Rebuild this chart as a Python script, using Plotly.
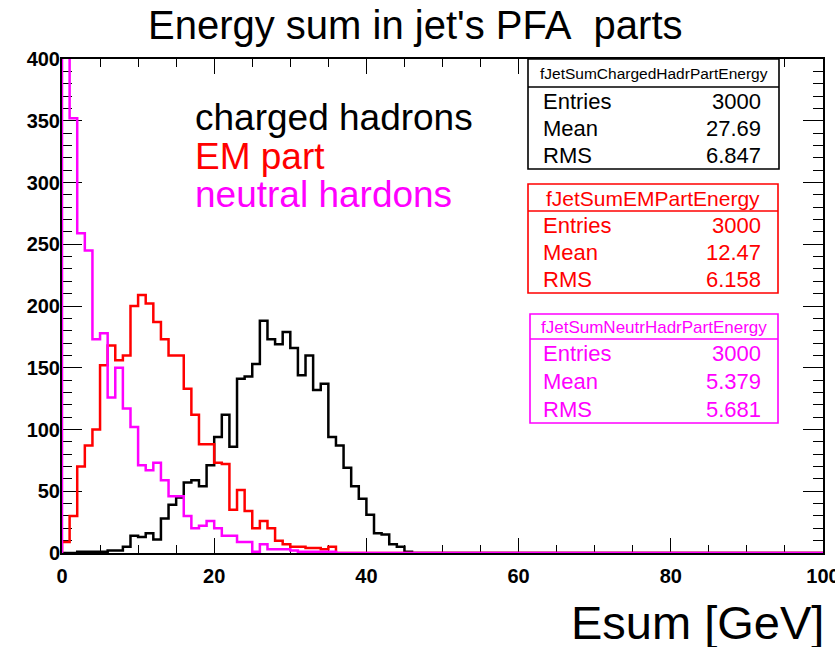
import numpy as np
import plotly.graph_objects as go

# Histogram contents, 1 GeV bins starting at 0 GeV (bins past the lists are empty)
N_BINS = 100
X_MIN, X_MAX = 0.0, 100.0

charged_hadrons = [0, 0, 1, 1, 1, 1, 2, 2, 5, 14, 13, 16, 11, 28, 39, 45, 57, 59, 54, 71,
                   94, 112, 86, 141, 143, 153, 188, 173, 169, 179, 166, 144, 160, 132, 137,
                   94, 87, 69, 54, 44, 31, 16, 15, 7, 5, 1]
em_part = [9, 30, 70, 87, 100, 152, 168, 156, 160, 200, 209, 202, 187, 173, 160, 160, 133,
           112, 88, 88, 73, 72, 35, 51, 34, 20, 26, 20, 10, 7, 5, 5, 4, 4, 3, 5]
neutral_hadrons = [748, 352, 259, 245, 173, 178, 126, 150, 117, 102, 71, 67, 73, 59, 46, 46,
                   30, 20, 22, 26, 20, 14, 14, 9, 9, 1, 7, 3, 3, 3, 2, 1, 1, 1, 1, 1]

series_labels = ["charged hadrons", "EM part", "neutral hardons"]
series_colors = ["#000000", "#ff0000", "#ff00ff"]

# Statistics box contents
hist_names = ["fJetSumChargedHadrPartEnergy", "fJetSumEMPartEnergy", "fJetSumNeutrHadrPartEnergy"]
stat_entries = ["3000", "3000", "3000"]
stat_means = ["27.69", "12.47", "5.379"]
stat_rms = ["6.847", "6.158", "5.681"]

title_text = "Energy sum in jet's PFA\u00a0 parts"
x_title = "Esum [GeV]"

# Frame geometry in pixels (used to place boxes and labels)
W, H = 835, 647
FL, FR, FT, FB = 62, 823, 59, 553


def fx(px):
    return (px - FL) / (FR - FL)


def fy(py):
    return (FB - py) / (FB - FT)


def step_outline(counts):
    full = np.zeros(N_BINS)
    full[:len(counts)] = counts
    edges = np.linspace(X_MIN, X_MAX, N_BINS + 1)
    xs = np.concatenate([[edges[0]], edges, [edges[-1]]])
    ys = np.concatenate([[0.0], full, [full[-1]], [0.0]])
    return xs, ys


fig = go.Figure()
for counts, color in zip([charged_hadrons, em_part, neutral_hadrons], series_colors):
    xs, ys = step_outline(counts)
    fig.add_trace(go.Scatter(x=xs, y=ys, mode="lines", line=dict(color=color, width=2.5, shape="hv"),
                             showlegend=False, hoverinfo="skip"))

FONT = "Liberation Sans, Arial, Helvetica, sans-serif"
annotations = []

# Title
annotations.append(dict(text=title_text, x=fx(415), y=fy(25), xref="paper", yref="paper",
                        xanchor="center", yanchor="middle", showarrow=False,
                        font=dict(family=FONT, size=40, color="black")))
# Axis title
annotations.append(dict(text=x_title, x=fx(826), y=fy(622), xref="paper", yref="paper",
                        xanchor="right", yanchor="middle", showarrow=False,
                        font=dict(family=FONT, size=47, color="black")))
# Series labels
for i, (lab, col) in enumerate(zip(series_labels, series_colors)):
    annotations.append(dict(text=lab, x=fx(193), y=fy(117.5 + 38.5 * i), xref="paper", yref="paper",
                            xanchor="left", yanchor="middle", showarrow=False,
                            font=dict(family=FONT, size=37, color=col)))

shapes = []
boxes = [  # left, right, top, separator, bottom, title font size
    (528, 779, 59, 87, 169, 15.5),
    (528, 778, 184, 211, 293, 21),
    (530, 778, 314, 339, 423, 17),
]
for (l, r, t, s, b, tsize), name, col, ent, mean, rms in zip(boxes, hist_names, series_colors,
                                                           stat_entries, stat_means, stat_rms):
    shapes.append(dict(type="rect", xref="paper", yref="paper", x0=fx(l), x1=fx(r), y0=fy(b), y1=fy(t),
                       line=dict(color=col, width=1.6), fillcolor="white", layer="above"))
    shapes.append(dict(type="line", xref="paper", yref="paper", x0=fx(l), x1=fx(r), y0=fy(s), y1=fy(s),
                       line=dict(color=col, width=1.6), layer="above"))
    annotations.append(dict(text=name, x=fx((l + r) / 2), y=fy((t + s) / 2 + 0.5), xref="paper", yref="paper",
                            xanchor="center", yanchor="middle", showarrow=False,
                            font=dict(family=FONT, size=tsize, color=col)))
    rows = [("Entries", ent), ("Mean", mean), ("RMS", rms)]
    row_h = (b - s) / 3
    for j, (k, v) in enumerate(rows):
        yc = s + row_h * (j + 0.5) + 0.5
        annotations.append(dict(text=k, x=fx(541), y=fy(yc), xref="paper", yref="paper",
                                xanchor="left", yanchor="middle", showarrow=False,
                                font=dict(family=FONT, size=22, color=col)))
        annotations.append(dict(text=v, x=fx(763), y=fy(yc), xref="paper", yref="paper",
                                xanchor="right", yanchor="middle", showarrow=False,
                                font=dict(family=FONT, size=22, color=col)))

tickfont = dict(family=FONT, size=20, color="black", weight="bold")
fig.update_layout(
    width=W, height=H,
    margin=dict(l=FL, r=W - FR, t=FT, b=H - FB, pad=0, autoexpand=False),
    paper_bgcolor="white", plot_bgcolor="white",
    showlegend=False,
    shapes=shapes, annotations=annotations,
    xaxis=dict(range=[X_MIN, X_MAX], showgrid=False, zeroline=False, automargin=False,
               showline=True, linecolor="black", linewidth=2, mirror="allticks",
               ticks="inside", ticklen=15, tickwidth=1.3, tickcolor="black",
               tick0=0, dtick=20, tickfont=tickfont, ticklabelstandoff=4,
               ticklabeloverflow="allow",
               minor=dict(ticks="inside", dtick=5, ticklen=8, tickwidth=1.3, tickcolor="black", showgrid=False),
               layer="below traces"),
    yaxis=dict(range=[0, 400], showgrid=False, zeroline=False, automargin=False,
               showline=True, linecolor="black", linewidth=2, mirror="allticks",
               ticks="inside", ticklen=20, tickwidth=1.3, tickcolor="black",
               tick0=0, dtick=50, tickfont=tickfont, ticklabelstandoff=-4,
               ticklabeloverflow="allow",
               minor=dict(ticks="inside", dtick=10, ticklen=10, tickwidth=1.3, tickcolor="black", showgrid=False),
               layer="below traces"),
)

fig.write_html("out.html")
